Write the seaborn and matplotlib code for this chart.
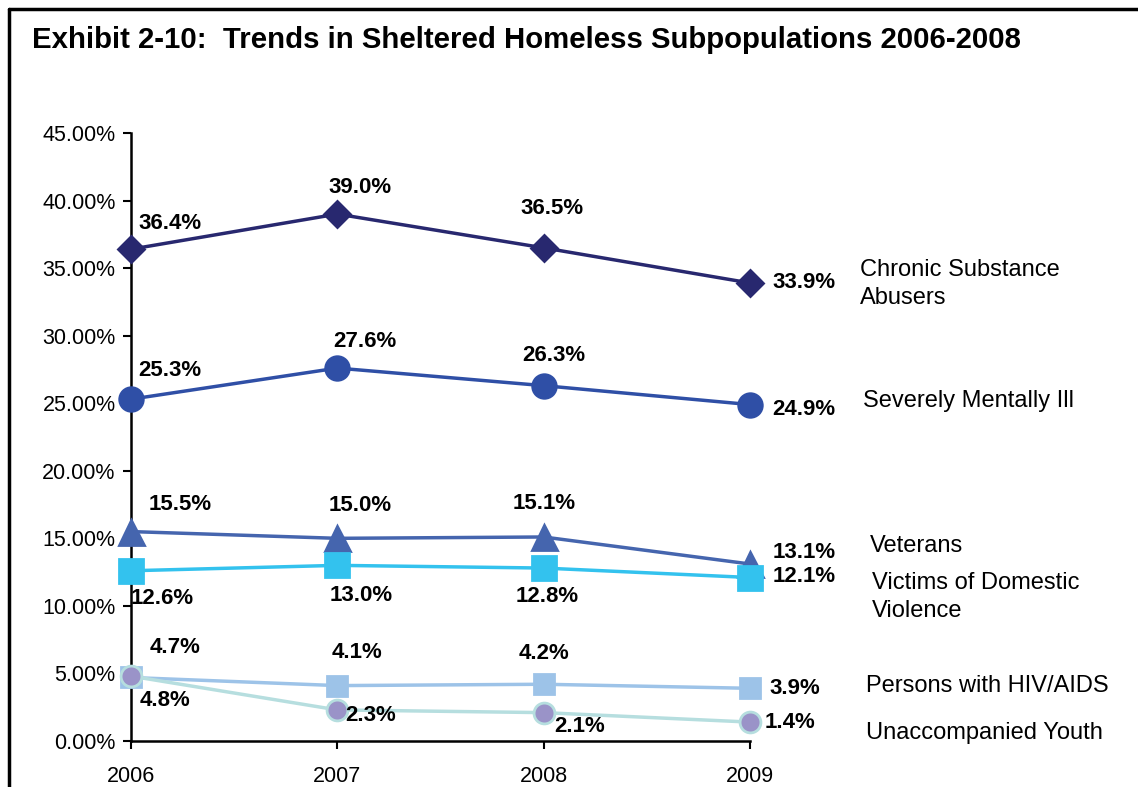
"""
Exhibit 2-10: trends in sheltered homeless subpopulations
"""
import matplotlib as mpl
import matplotlib.pyplot as plt
import seaborn as sns
import pandas as pd
import numpy as np

sns.set_style('white')
plt.rcParams['font.family'] = ['Liberation Sans', 'DejaVu Sans']
plt.rcParams['text.color'] = 'black'
plt.rcParams['xtick.color'] = 'black'
plt.rcParams['ytick.color'] = 'black'

years = [2006, 2007, 2008, 2009]
chronic = [36.4, 39.0, 36.5, 33.9]
mental = [25.3, 27.6, 26.3, 24.9]
veterans = [15.5, 15.0, 15.1, 13.1]
domestic = [12.6, 13.0, 12.8, 12.1]
hiv = [4.7, 4.1, 4.2, 3.9]
youth = [4.8, 2.3, 2.1, 1.4]
names = ['Chronic Substance\nAbusers', 'Severely Mentally Ill', 'Veterans',
         'Victims of Domestic\nViolence', 'Persons with HIV/AIDS',
         'Unaccompanied Youth']
yticks = [0, 5, 10, 15, 20, 25, 30, 35, 40, 45]

series = [chronic, mental, veterans, domestic, hiv, youth]
df = pd.concat([pd.DataFrame({'year': years, 'pct': v, 'group': n})
                for v, n in zip(series, names)], ignore_index=True)

# styling per series: line colour, marker, size, marker face, marker edge
styles = {
    names[0]: dict(color='#28286F', marker='D', markersize=13.5, mfc='#28286F', mec='#28286F'),
    names[1]: dict(color='#2F4FA6', marker='o', markersize=17, mfc='#2F4FA6', mec='#2F4FA6'),
    names[2]: dict(color='#4565AE', marker='^', markersize=18, mfc='#4565AE', mec='#4565AE'),
    names[3]: dict(color='#33C2EE', marker='s', markersize=17, mfc='#33C2EE', mec='#33C2EE'),
    names[4]: dict(color='#9DC3E8', marker='s', markersize=14.5, mfc='#9DC3E8', mec='#9DC3E8'),
    names[5]: dict(color='#B6DEDF', marker='o', markersize=15, mfc='#9A93C8', mec='#B6DEDF'),
}
# label offsets in pixels (dx, dy) for each point
offsets = {
    names[0]: [(39, 26), (23, 27), (8, 39), (54, 0)],
    names[1]: [(39, 29), (28, 27), (10, 30), (54, -5)],
    names[2]: [(49, 27), (23, 33), (1, 33), (54, 12)],
    names[3]: [(31, -28), (24, -30), (4, -28), (54, 1)],
    names[4]: [(44, 30), (20, 33), (0, 31), (45, 0)],
    names[5]: [(34, -24), (33, -6), (36, -14), (40, 0)],
}
# right-hand name positions (figure pixels, left x / center y)
name_pos = [(860, 284), (863, 401), (870, 546), (872, 597), (866, 686), (866, 733)]

W, H = 1138, 787
fig = plt.figure(figsize=(W / 100, H / 100), dpi=100)
ax = fig.add_axes([131 / W, 1 - 741 / H, (750 - 131) / W, (741 - 133) / H])

for n in names:
    st = styles[n]
    sub = df[df.group == n]
    sns.lineplot(data=sub, x='year', y='pct', ax=ax, color=st['color'], lw=2.5,
                 marker=st['marker'], markersize=st['markersize'],
                 markerfacecolor=st['mfc'], markeredgecolor=st['mec'],
                 markeredgewidth=2, clip_on=False, zorder=3)
    for (x, y), (dx, dy) in zip(zip(sub.year, sub.pct), offsets[n]):
        ax.annotate('%.1f%%' % y, (x, y), xytext=(dx, dy), textcoords='offset pixels',
                    ha='center', va='center', fontsize=16, fontweight='bold',
                    color='black', zorder=5)

for n, (px, py) in zip(names, name_pos):
    fig.text(px / W, 1 - py / H, n, ha='left', va='center', fontsize=17,
             linespacing=1.3)

ax.set_xlim(2006, 2009)
ax.set_ylim(0, 45)
ax.set_xticks(years)
ax.set_xticklabels([str(y) for y in years])
ax.set_yticks(yticks)
ax.set_yticklabels(['%.2f%%' % t for t in yticks])
ax.set(xlabel='', ylabel='')
ax.tick_params(axis='both', labelsize=15.5, direction='out', length=6, width=1.5,
               color='black', left=True, bottom=True)
ax.tick_params(axis='x', pad=12)
ax.tick_params(axis='y', pad=5)
sns.despine(ax=ax)
for s in ['left', 'bottom']:
    ax.spines[s].set_color('black')
    ax.spines[s].set_linewidth(1.8)
ax.grid(False)

# title and outer frame (top and left edges only are visible)
fig.text(32 / W, 1 - 40 / H, 'Exhibit 2-10:  Trends in Sheltered Homeless Subpopulations 2006-2008',
         ha='left', va='center', fontsize=21.2, fontweight='bold')
fig.add_artist(mpl.lines.Line2D([9 / W, 1], [1 - 9 / H, 1 - 9 / H], color='black', lw=2.5))
fig.add_artist(mpl.lines.Line2D([9 / W, 9 / W], [0, 1 - 9 / H], color='black', lw=2.5))

fig.savefig('out.png', dpi=100, facecolor='white')
